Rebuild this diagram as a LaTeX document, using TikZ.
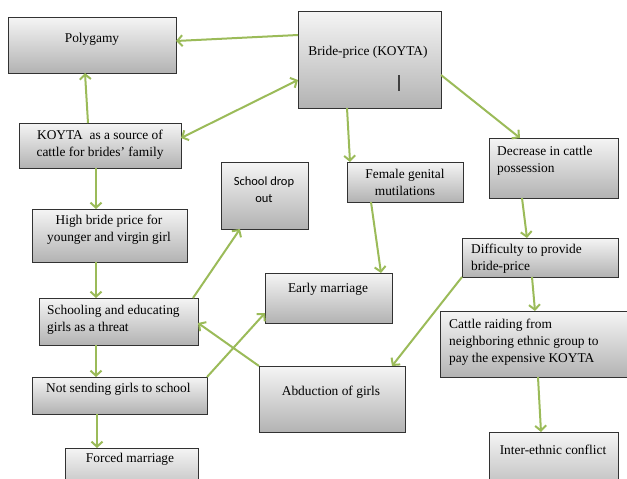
\documentclass[tikz,border=0pt]{standalone}
\usepackage{fontspec}
\setmainfont{Liberation Serif}
\newfontfamily\calfont{Carlito}
\usetikzlibrary{arrows.meta,calc}
\definecolor{arrowgreen}{RGB}{155,187,89}
\definecolor{boxedge}{RGB}{50,50,50}
\tikzset{
  box/.style={draw=boxedge, line width=0.9pt, top color=black!4, bottom color=black!30, anchor=north west, inner sep=0pt, outer sep=0pt},
  txt/.style={inner sep=0pt, font=\fontsize{13.4}{17}\selectfont, align=center},
  ltxt/.style={inner sep=0pt, font=\fontsize{13.4}{17}\selectfont, align=left, anchor=west},
  conn/.style={draw=arrowgreen, line width=2pt, -{Straight Barb[length=5pt,width=11pt]}},
  conn2/.style={draw=arrowgreen, line width=2pt, {Straight Barb[length=5pt,width=11pt]}-{Straight Barb[length=5pt,width=11pt]}}
}
\newcommand{\mkbox}[5]{\node[box, minimum width=#4pt-#2pt, minimum height=#5pt-#3pt] (#1) at (#2,#3) {};}
\begin{document}
\begin{tikzpicture}[x=1pt,y=-1pt]
\useasboundingbox (0,0) rectangle (627,479);
\clip (0,0) rectangle (627,479);
% boxes
\mkbox{poly}{8}{17}{176}{73}
\mkbox{bride}{298}{11}{441}{108}
\mkbox{koy}{19}{123}{181}{168}
\mkbox{drop}{221}{162}{308}{229}
\mkbox{high}{32}{209}{187}{262}
\mkbox{schl}{39}{298}{198}{345}
\mkbox{nots}{32}{377}{207}{414}
\mkbox{forced}{65}{448}{198}{500}
\mkbox{early}{265}{273}{392}{323}
\mkbox{abd}{259}{366}{405}{432}
\mkbox{fgm}{347}{162}{463}{202}
\mkbox{dec}{489}{138}{618}{198}
\mkbox{diff}{462}{238}{618}{277}
\mkbox{cattle}{440}{311}{627}{377}
\mkbox{inter}{489}{432}{618}{500}
% texts
\node[txt] (tpoly) at (92,39) {Polygamy};
\node[txt] (tbride) at (368,52) {Bride-price (KOYTA)};
\draw[line width=2pt, draw=black!75] (399,75) -- (399,91);
\node[txt] (tkoy) at (100,145) {KOYTA\ \ as a source of\\cattle for brides' family};
\node[txt, font=\calfont\fontsize{12.5}{17}\selectfont] (tdrop) at (264,189.5) {School drop\\out};
\node[txt] (thigh) at (109,229.5) {High bride price for\\younger and virgin girl};
\node[ltxt] (tschl) at (47,319.5) {Schooling and educating\\girls as a threat};
\node[ltxt] (tnots) at (46,389) {Not sending girls to school};
\node[txt] (tforced) at (130,459) {Forced marriage};
\node[txt] (tearly) at (328,289) {Early marriage};
\node[txt] (tabd) at (331,392) {Abduction of girls};
\node[txt] (tfgm) at (405,182.5) {Female genital\\mutilations};
\node[ltxt] (tdec) at (497,160.5) {Decrease in cattle\\possession};
\node[ltxt] (tdiff) at (471,258.5) {Difficulty to provide\\bride-price};
\node[ltxt] (tcattle) at (449,342.5) {Cattle raiding from\\neighboring ethnic group to\\pay the expensive KOYTA};
\node[txt] (tinter) at (553,450) {Inter-ethnic conflict};
% connectors
\draw[conn] ($(bride.north west)+(0,24)$) -- ($(poly.north east)+(0,24)$);
\draw[conn2] ($(bride.north west)+(0,69)$) -- ($(koy.north east)+(0,15)$);
\draw[conn] ($(koy.north west)+(69,0)$) -- ($(poly.south west)+(77,0)$);
\draw[conn] ($(koy.south west)+(77,0)$) -- ($(high.north west)+(64,0)$);
\draw[conn] ($(high.south west)+(64,0)$) -- ($(schl.north west)+(57,0)$);
\draw[conn] ($(schl.north west)+(154,0)$) -- ($(drop.south west)+(19,0)$);
\draw[conn] ($(schl.south west)+(57,0)$) -- ($(nots.north west)+(64,0)$);
\draw[conn] ($(nots.south west)+(65,0)$) -- ($(forced.north west)+(32,0)$);
\draw[conn] (nots.north east) -- ($(early.north west)+(0,40)$);
\draw[conn] (abd.north west) -- ($(schl.north east)+(0,25)$);
\draw[conn] ($(bride.south west)+(49,0)$) -- ($(fgm.north west)+(3,0)$);
\draw[conn] ($(fgm.south west)+(24,0)$) -- ($(early.north west)+(116,0)$);
\draw[conn] ($(bride.north east)+(0,64)$) -- ($(dec.north west)+(31,0)$);
\draw[conn] ($(dec.south west)+(33,0)$) -- ($(diff.north west)+(65,0)$);
\draw[conn] (diff.south west) -- ($(abd.north east)+(-13,0)$);
\draw[conn] ($(diff.south west)+(70,0)$) -- ($(cattle.north west)+(95,0)$);
\draw[conn] ($(cattle.south west)+(98,0)$) -- ($(inter.north west)+(52,0)$);
\end{tikzpicture}
\end{document}
